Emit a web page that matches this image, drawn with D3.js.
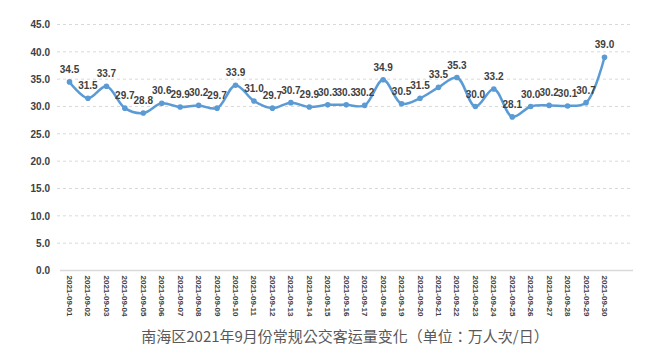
<!DOCTYPE html>
<html><head><meta charset="utf-8">
<script src="https://cdn.jsdelivr.net/npm/d3@7"></script>
<style>body{margin:0;background:#fff;}svg{display:block;} .ttl{text-spacing-trim:space-all;}</style>
</head><body>
<svg id="c" width="663" height="355"></svg>
<script>
const dates = ["2021-09-01","2021-09-02","2021-09-03","2021-09-04","2021-09-05","2021-09-06","2021-09-07","2021-09-08","2021-09-09","2021-09-10","2021-09-11","2021-09-12","2021-09-13","2021-09-14","2021-09-15","2021-09-16","2021-09-17","2021-09-18","2021-09-19","2021-09-20","2021-09-21","2021-09-22","2021-09-23","2021-09-24","2021-09-25","2021-09-26","2021-09-27","2021-09-28","2021-09-29","2021-09-30"];
const values = [34.5,31.5,33.7,29.7,28.8,30.6,29.9,30.2,29.7,33.9,31.0,29.7,30.7,29.9,30.3,30.3,30.2,34.9,30.5,31.5,33.5,35.3,30.0,33.2,28.1,30.0,30.2,30.1,30.7,39.0];
const yTicks = [0,5,10,15,20,25,30,35,40,45];
const title = "南海区2021年9月份常规公交客运量变化（单位：万人次/日）";

const svg = d3.select("#c");
const x = d3.scalePoint().domain(dates).range([69.5, 604.5]);
const y = d3.scaleLinear().domain([0,45]).range([270.5, 24.5]);
const gridL = 57, gridR = 631;

// gridlines
svg.append("g").selectAll("line").data(yTicks.filter(d=>d>0)).join("line")
  .attr("x1",gridL).attr("x2",gridR)
  .attr("y1",d=>y(d)).attr("y2",d=>y(d))
  .attr("stroke","#d9d9d9").attr("stroke-width",1).attr("stroke-dasharray","3,3");
// baseline
svg.append("line").attr("x1",60).attr("x2",633).attr("y1",y(0)).attr("y2",y(0))
  .attr("stroke","#d9d9d9").attr("stroke-width",1.5);

// y axis labels
const ya = svg.append("g").attr("transform",`translate(50,0)`)
  .call(d3.axisLeft(y).tickValues(yTicks).tickFormat(d3.format(".1f")).tickSize(0).tickPadding(0));
ya.select(".domain").remove();
ya.selectAll("text").attr("font-family","Liberation Sans, Arial, sans-serif")
  .attr("font-size",10).attr("font-weight","bold").attr("fill","#404040");

// x axis labels
const xa = svg.append("g").attr("transform",`translate(0,${y(0)})`)
  .call(d3.axisBottom(x).tickSize(0).tickPadding(0));
xa.select(".domain").remove();
xa.selectAll("text").attr("font-family","Liberation Sans, Arial, sans-serif")
  .attr("font-size",8).attr("font-weight","bold").attr("fill","#404040")
  .attr("text-anchor","start").attr("dy",null).attr("y",0)
  .attr("transform","translate(-3,5) rotate(90)");

// line
const line = d3.line().x((d,i)=>x(dates[i])).y(d=>y(d)).curve(d3.curveCatmullRom.alpha(0.5));
svg.append("path").datum(values).attr("d",line)
  .attr("fill","none").attr("stroke","#5b9bd5").attr("stroke-width",2.5).attr("stroke-linejoin","round");

svg.append("g").selectAll("circle").data(values).join("circle")
  .attr("cx",(d,i)=>x(dates[i])).attr("cy",d=>y(d)).attr("r",2.8)
  .attr("fill","#5b9bd5");

// data labels
svg.append("g").selectAll("text").data(values).join("text")
  .attr("x",(d,i)=>x(dates[i])).attr("y",d=>y(d)-9)
  .attr("text-anchor","middle")
  .attr("font-family","Liberation Sans, Arial, sans-serif")
  .attr("font-size",10).attr("font-weight","bold").attr("fill","#404040")
  .text(d=>d3.format(".1f")(d));

// title
svg.append("text").attr("class","ttl").attr("x",345).attr("y",342).attr("text-anchor","middle")
  .attr("font-family","Noto Sans CJK TC, sans-serif").attr("font-size",15)
  .attr("fill","#595959").text(title);
</script>
</body></html>
